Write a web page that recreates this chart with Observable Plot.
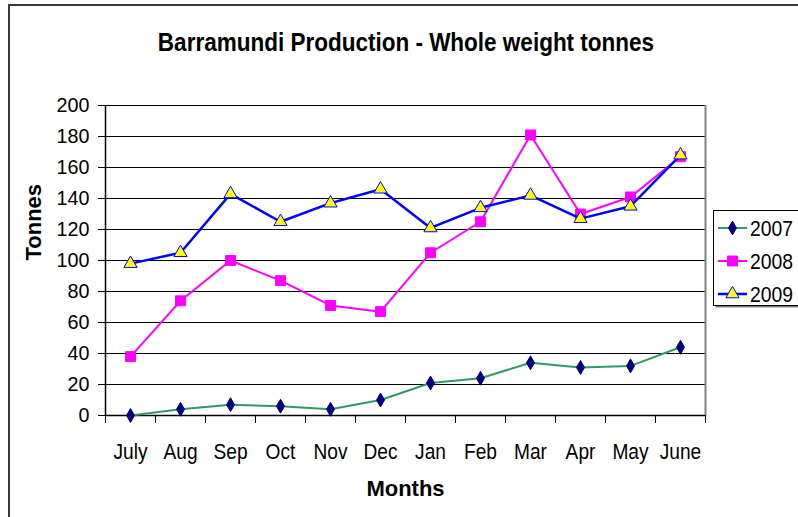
<!DOCTYPE html>
<html>
<head>
<meta charset="utf-8">
<script src="https://cdn.jsdelivr.net/npm/d3@7"></script>
<script src="https://cdn.jsdelivr.net/npm/@observablehq/plot@0.6"></script>
<style>
  html, body { margin: 0; padding: 0; background: #fff; }
  body { width: 798px; height: 517px; overflow: hidden; position: relative;
         font-family: "Liberation Sans", Arial, sans-serif; }
  #frame { position: absolute; left: 8px; top: 4px; width: 820px; height: 560px;
           border-left: 2px solid #3a3a3a; border-top: 2px solid #3a3a3a; }
  #chart { position: absolute; left: 0; top: 0; }
  #title { position: absolute; left: 0; width: 812px; top: 28px; text-align: center;
           font-weight: bold; font-size: 25px; color: #000; white-space: nowrap;
           transform: scaleX(0.9); transform-origin: 406px 0; }
  #legend { position: absolute; left: 713px; top: 210px; }
</style>
</head>
<body>
<div id="frame"></div>
<div id="chart"></div>
<div id="title">Barramundi Production - Whole weight tonnes</div>
<div id="legend"></div>
<script>
const months = ["July","Aug","Sep","Oct","Nov","Dec","Jan","Feb","Mar","Apr","May","June"];
const y2007 = [0, 4, 7, 6, 4, 10, 21, 24, 34, 31, 32, 44];
const y2008 = [38, 74, 100, 87, 71, 67, 105, 125, 181, 130, 141, 167];
const y2009 = [98, 105, 143, 125, 137, 146, 121, 134, 142, 127, 135, 168];
const seriesNames = ["2007", "2008", "2009"];
const yTicks = [0, 20, 40, 60, 80, 100, 120, 140, 160, 180, 200];

const styles = {
  "2007": {line: "#339966", fill: "#000080", stroke: "#000080", symbol: "diamond", r: 4.2, sw: 2},
  "2008": {line: "#FF00FF", fill: "#FF00FF", stroke: "#FF00FF", symbol: "square", r: 5.6, sw: 2},
  "2009": {line: "#0000FF", fill: "#FFFF00", stroke: "#0000FF", symbol: "triangle", r: 4.9, sw: 2.5}
};

const values = {"2007": y2007, "2008": y2008, "2009": y2009};
const rows = seriesNames.map(s => months.map((m, i) => ({series: s, i, month: m, value: values[s][i]})));

const font = '"Liberation Sans", Arial, sans-serif';
const bounds = d3.range(0, months.length + 1).map(i => i - 0.5);

const marks = [
  Plot.gridY(yTicks, {stroke: "#000", strokeOpacity: 1, strokeWidth: 1}),
  Plot.ruleX([months.length - 0.5], {stroke: "#808080", strokeWidth: 2}),
  Plot.ruleX([-0.5], {stroke: "#000", strokeWidth: 1.5}),
  Plot.ruleY([0], {stroke: "#000", strokeWidth: 1.5}),
  Plot.axisY({ticks: yTicks, tickSize: 7, tickPadding: 9, fontSize: 21, label: null, anchor: "left"}),
  Plot.axisX({ticks: bounds, tickSize: 8, tickFormat: () => "", label: null}),
  Plot.axisX({ticks: d3.range(months.length), tickSize: 0, tickPadding: 28, fontSize: 22,
              tickFormat: i => months[i], label: null}),
  Plot.text(["Tonnes"], {frameAnchor: "left", rotate: -90, dx: -72, fontWeight: "bold", fontSize: 22}),
  Plot.text(["Months"], {frameAnchor: "bottom", dy: 80, fontWeight: "bold", fontSize: 22})
];
for (const s of seriesNames) {
  const st = styles[s];
  const data = rows[seriesNames.indexOf(s)];
  marks.push(Plot.line(data, {x: "i", y: "value", stroke: st.line, strokeWidth: st.sw}));
  marks.push(Plot.dot(data, {x: "i", y: "value", symbol: st.symbol, r: st.r,
    fill: st.fill, stroke: st.stroke, strokeWidth: 1}));
}

const chart = Plot.plot({
  width: 798, height: 517,
  marginLeft: 105, marginRight: 93, marginTop: 105, marginBottom: 102,
  style: {fontFamily: font, background: "transparent", color: "#000"},
  x: {domain: [-0.5, months.length - 0.5]},
  y: {domain: [0, 200]},
  marks
});
document.getElementById("chart").appendChild(chart);

// horizontally condense tick label text (narrow typeface look)
function condense(sel, s) {
  sel.each(function() {
    const el = d3.select(this);
    const x = +el.attr("x") || 0, y = +el.attr("y") || 0;
    const t = el.attr("transform") || "";
    el.attr("transform", `${t} translate(${x},${y}) scale(${s},1) translate(${-x},${-y})`);
  });
}
condense(d3.select(chart).selectAll("g[aria-label='y-axis tick label'] text"), 0.94);
condense(d3.select(chart).selectAll("g[aria-label='x-axis tick label'] text"), 0.87);

// Legend
const lw = 86, lh = 99;
const leg = d3.select("#legend").append("svg").attr("width", lw + 4).attr("height", lh)
  .style("overflow", "visible");
leg.append("rect").attr("x", 2.5).attr("y", 2.5).attr("width", lw).attr("height", lh - 4)
  .attr("fill", "#808080");
leg.append("rect").attr("x", 0.5).attr("y", 0.5).attr("width", lw).attr("height", lh - 4)
  .attr("fill", "#fff").attr("stroke", "#000");
seriesNames.forEach((s, k) => {
  const st = styles[s];
  const cy = 18 + k * 33;
  const g = leg.append("g");
  g.append("line").attr("x1", 5).attr("x2", 34).attr("y1", cy).attr("y2", cy)
    .attr("stroke", st.line).attr("stroke-width", st.sw);
  const sym = {diamond: d3.symbolDiamond, square: d3.symbolSquare, triangle: d3.symbolTriangle}[st.symbol];
  g.append("path").attr("d", d3.symbol(sym, Math.PI * st.r * st.r)())
    .attr("transform", `translate(19.5,${cy})`)
    .attr("fill", st.fill).attr("stroke", st.stroke);
  g.append("text").attr("transform", `translate(37,${cy}) scale(0.88,1)`).attr("dy", "0.36em")
    .attr("font-size", 22).attr("font-family", font).text(s);
});
</script>
</body>
</html>
